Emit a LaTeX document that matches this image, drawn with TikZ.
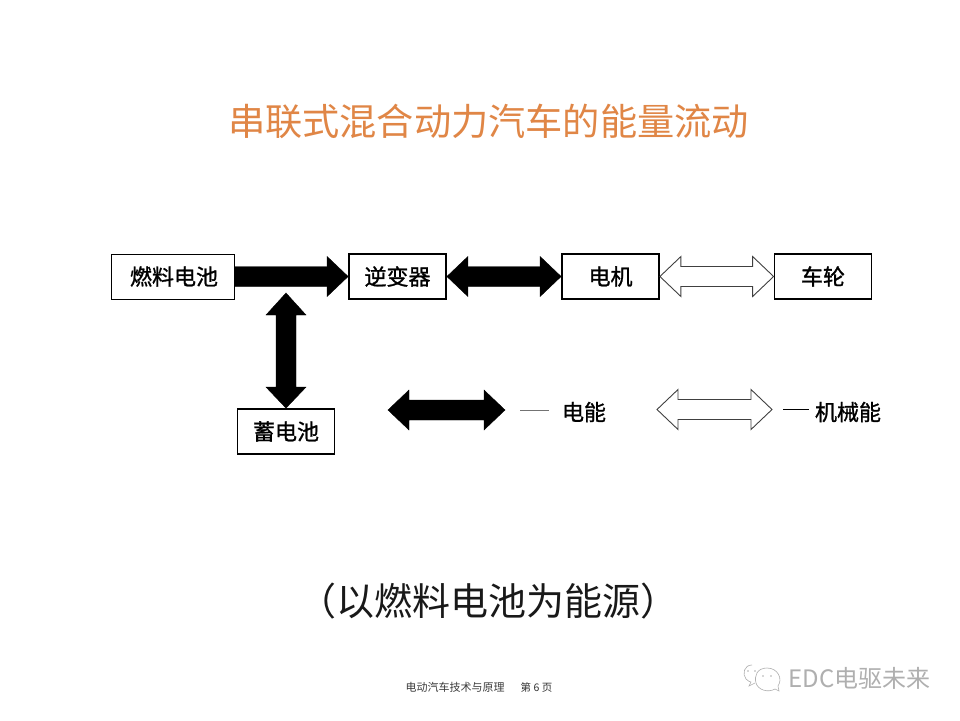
\documentclass[tikz,border=0pt]{standalone}
\usepackage{fontspec}
\usetikzlibrary{calc}
\setmainfont{Liberation Sans}
\newfontfamily\cjk{Noto Sans CJK SC}
\newfontfamily\cjkheavy[FakeBold=1.2]{Noto Sans CJK SC}
\definecolor{titleor}{RGB}{224,134,70}
\definecolor{wmgray}{RGB}{175,175,175}
\definecolor{footgray}{RGB}{60,60,60}
\tikzset{
  blockbox/.style={draw=black,line width=1.8pt,fill=white,minimum height=45pt,inner sep=0pt,font=\cjkheavy\fontsize{22}{22}\selectfont},
  solidarrow/.style={fill=black,draw=black,line width=0.4pt,line join=miter},
  hollowarrow/.style={fill=white,draw=black!75,line width=0.9pt,line join=miter},
  legendtext/.style={font=\cjkheavy\fontsize{22}{22}\selectfont,inner sep=0pt},
  legendline/.style={line width=1pt},
  wmline/.style={draw=wmgray,line width=0.6pt}
}
% double-headed block arrow, horizontal and vertical
\newcommand{\dblH}[3]{\draw[#1] (#2) -- ($(#2)+(21,-20)$) -- ($(#2)+(21,-10)$) -- ($(#3)+(-21,-10)$) -- ($(#3)+(-21,-20)$) -- (#3) -- ($(#3)+(-21,20)$) -- ($(#3)+(-21,10)$) -- ($(#2)+(21,10)$) -- ($(#2)+(21,20)$) -- cycle;}
\newcommand{\dblV}[3]{\draw[#1] (#2) -- ($(#2)+(-20,22)$) -- ($(#2)+(-10,22)$) -- ($(#3)+(-10,-21)$) -- ($(#3)+(-20,-21)$) -- (#3) -- ($(#3)+(20,-21)$) -- ($(#3)+(10,-21)$) -- ($(#2)+(10,22)$) -- ($(#2)+(20,22)$) -- cycle;}
\newcommand{\oneH}[3]{\draw[#1] ($(#2)+(0,-10)$) -- ($(#3)+(-21,-10)$) -- ($(#3)+(-21,-20)$) -- (#3) -- ($(#3)+(-21,20)$) -- ($(#3)+(-21,10)$) -- ($(#2)+(0,10)$) -- cycle;}
\newcommand{\lowered}[1]{\raisebox{-2.5pt}{#1}}
\begin{document}
\begin{tikzpicture}[x=1pt,y=-1pt]
\useasboundingbox (0,0) rectangle (960,720);
\fill[white] (0,0) rectangle (960,720);

\node[inner sep=0pt,text=titleor,font=\cjk\fontsize{37.2}{37}\selectfont] (title) at (488.5,121) {串联式混合动力汽车的能量流动};

\node[blockbox,line width=1pt,minimum width=123pt] (fc) at (172.5,276.5) {\hspace{3pt}\lowered{燃料电池}};
\node[blockbox,minimum width=97pt] (inv) at (397.5,276.5) {\lowered{逆变器}};
\node[blockbox,minimum width=97pt] (motor) at (610.5,276.5) {\lowered{电机}};
\node[blockbox,minimum width=97pt] (wheel) at (823,276.5) {\lowered{车轮}};
\node[blockbox,minimum width=97pt] (batt) at (286,431.5) {\lowered{蓄电池}};

\coordinate (busjoin) at (286,293);
\coordinate (lgAl) at (388,410);
\coordinate (lgAr) at (505,410);
\coordinate (lgBl) at (657,409.5);
\coordinate (lgBr) at (772,409.5);
\coordinate (lnAl) at (520,410);
\coordinate (lnAr) at (549,410);
\coordinate (lnBl) at (783,409);
\coordinate (lnBr) at (809,409);

\oneH{solidarrow}{fc.east}{inv.west}
\dblH{solidarrow}{inv.east}{motor.west}
\dblH{hollowarrow}{motor.east}{wheel.west}
\dblV{solidarrow}{busjoin}{batt.north}
\dblH{solidarrow}{lgAl}{lgAr}
\dblH{hollowarrow}{lgBl}{lgBr}

\draw[legendline,draw=black!55] (lnAl) -- (lnAr);
\draw[legendline] (lnBl) -- (lnBr);
\node[legendtext] (lgA) at (584,412) {电能};
\node[legendtext] (lgB) at (848,412) {机械能};

\node[inner sep=0pt,font=\cjk\fontsize{38}{38}\selectfont,text=black!90] (sub) at (488.5,601) {（以燃料电池为能源）};

\node[inner sep=0pt,text=footgray,font=\cjk\fontsize{11}{11}\selectfont] (foot) at (455,687) {电动汽车技术与原理};
\node[inner sep=0pt,text=black!80,font=\cjk\fontsize{10.5}{11}\selectfont] (page) at (536.5,687) {第 6 页};

\node[inner sep=0pt,text=wmgray,font=\cjk\fontsize{24}{24}\selectfont] (wm) at (859.5,678) {EDC电驱未来};
% logo
\draw[wmline,fill=white] (752,665) .. controls (744,665) and (742,674) .. (746,679) .. controls (748,681) and (750,682) .. (751,682) -- (749,686) -- (755,683);
\draw[wmline,fill=white] (767,668) .. controls (757,668) and (754,676) .. (756,683) .. controls (758,690) and (768,693) .. (775,689) -- (779,691) -- (778,686) .. controls (783,679) and (778,668) .. (767,668) -- cycle;
\fill[wmgray] (763,676) circle (0.9pt);
\fill[wmgray] (771,676) circle (0.9pt);
\fill[wmgray] (748,671) circle (0.9pt);
\fill[wmgray] (755,671) circle (0.9pt);
\end{tikzpicture}
\end{document}
